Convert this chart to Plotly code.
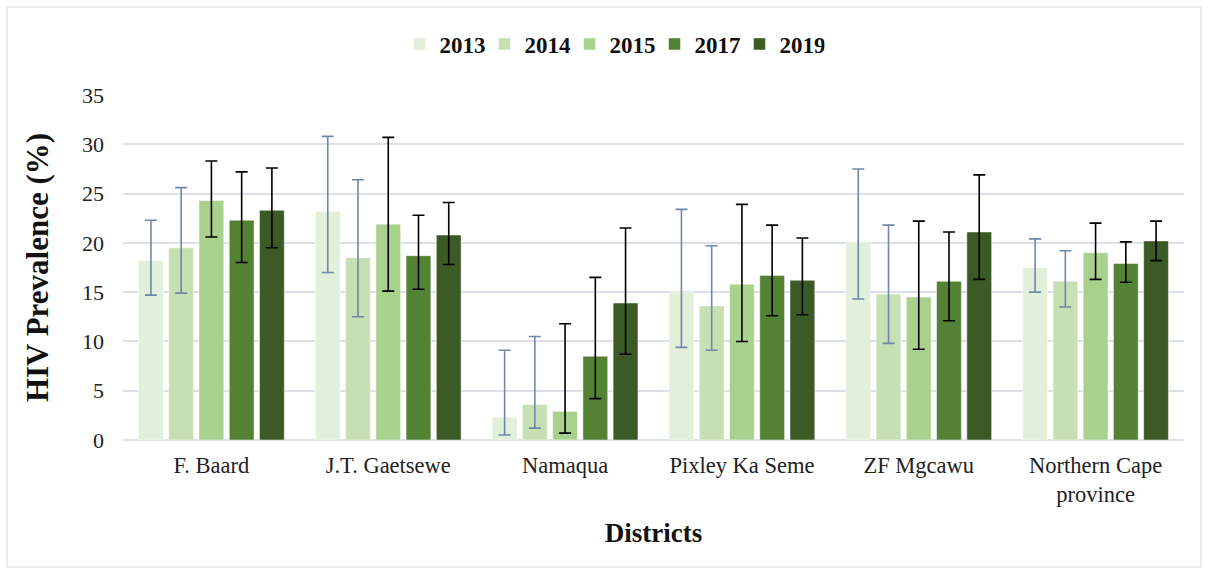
import plotly.graph_objects as go

districts = ["F. Baard", "J.T. Gaetsewe", "Namaqua", "Pixley Ka Seme", "ZF Mgcawu", "Northern Cape<br>province"]
years = ["2013", "2014", "2015", "2017", "2019"]

prev_2013 = [18.2, 23.2, 2.3, 15.0, 20.1, 17.5]
prev_2014 = [19.5, 18.5, 3.6, 13.6, 14.8, 16.1]
prev_2015 = [24.3, 21.9, 2.9, 15.8, 14.5, 19.0]
prev_2017 = [22.3, 18.7, 8.5, 16.7, 16.1, 17.9]
prev_2019 = [23.3, 20.8, 13.9, 16.2, 21.1, 20.2]

upper_2013 = [22.3, 30.8, 9.1, 23.4, 27.5, 20.4]
upper_2014 = [25.6, 26.4, 10.5, 19.7, 21.8, 19.2]
upper_2015 = [28.3, 30.7, 11.8, 23.9, 22.2, 22.0]
upper_2017 = [27.2, 22.8, 16.5, 21.8, 21.1, 20.1]
upper_2019 = [27.6, 24.1, 21.5, 20.5, 26.9, 22.2]

lower_2013 = [14.7, 17.0, 0.5, 9.4, 14.3, 15.0]
lower_2014 = [14.9, 12.5, 1.2, 9.1, 9.8, 13.5]
lower_2015 = [20.6, 15.1, 0.7, 10.0, 9.2, 16.3]
lower_2017 = [18.0, 15.3, 4.2, 12.6, 12.1, 16.0]
lower_2019 = [19.5, 17.8, 8.7, 12.7, 16.3, 18.2]

values = [prev_2013, prev_2014, prev_2015, prev_2017, prev_2019]
uppers = [upper_2013, upper_2014, upper_2015, upper_2017, upper_2019]
lowers = [lower_2013, lower_2014, lower_2015, lower_2017, lower_2019]
colors = ["#E2EFDA", "#C6E0B4", "#A9D18E", "#548235", "#3B5A25"]
err_colors = ["#6F87A9", "#6F87A9", "#000000", "#000000", "#000000"]

FONT = "Liberation Serif"

fig = go.Figure()
for yr, v, up, lo, c, ec in zip(years, values, uppers, lowers, colors, err_colors):
    fig.add_trace(go.Bar(
        name=yr, x=districts, y=v,
        marker=dict(color=c, line=dict(color="rgba(255,255,255,0.6)", width=0.8)),
        error_y=dict(type="data", symmetric=False,
                     array=[u - a for u, a in zip(up, v)],
                     arrayminus=[a - l for a, l in zip(v, lo)],
                     color=ec, thickness=1.6, width=6),
    ))

L, R, T, B = 123, 25, 95, 135
W, H = 1209, 575
pw, ph = W - L - R, H - T - B

def px_x(p):
    return (p - L) / pw

def px_y(p):
    return (H - B - p) / ph

fig.update_layout(
    width=W, height=H,
    margin=dict(l=L, r=R, t=T, b=B),
    paper_bgcolor="white", plot_bgcolor="white",
    barmode="group", bargap=0.145, bargroupgap=0.18,
    font=dict(family=FONT, size=22, color="#222222"),
    legend=dict(orientation="h", x=px_x(612), xanchor="center", y=px_y(44), yanchor="middle",
                font=dict(family=FONT, size=23, color="#111111", weight="bold"),
                itemwidth=30, entrywidth=40, entrywidthmode="pixels", traceorder="normal"),
    xaxis=dict(
        title=dict(text="<b>Districts</b>", font=dict(family=FONT, size=27, color="#111111"), standoff=17),
        tickfont=dict(family=FONT, size=22.5, color="#222222"),
        ticklabelstandoff=9,
        showgrid=False, showline=False, ticks="",
    ),
    yaxis=dict(
        title=dict(text="<b>HIV Prevalence (%)</b>", font=dict(family=FONT, size=31, color="#111111"), standoff=24),
        range=[0, 35], dtick=5, tickfont=dict(family=FONT, size=22, color="#222222"),
        ticklabelstandoff=18,
        showgrid=True, gridcolor="#DDE1E7", gridwidth=1.5,
        zeroline=True, zerolinecolor="#DDE1E7", zerolinewidth=1.5,
        ticks="", showline=False,
    ),
    shapes=[dict(type="rect", xref="paper", yref="paper",
                 x0=px_x(7), x1=px_x(1201), y0=px_y(567), y1=px_y(7),
                 line=dict(color="#D9D9D9", width=1), fillcolor="rgba(0,0,0,0)", layer="below")],
)

fig.write_html("out.html", config={"displayModeBar": False},
               post_script="document.body.style.margin='0px';")
